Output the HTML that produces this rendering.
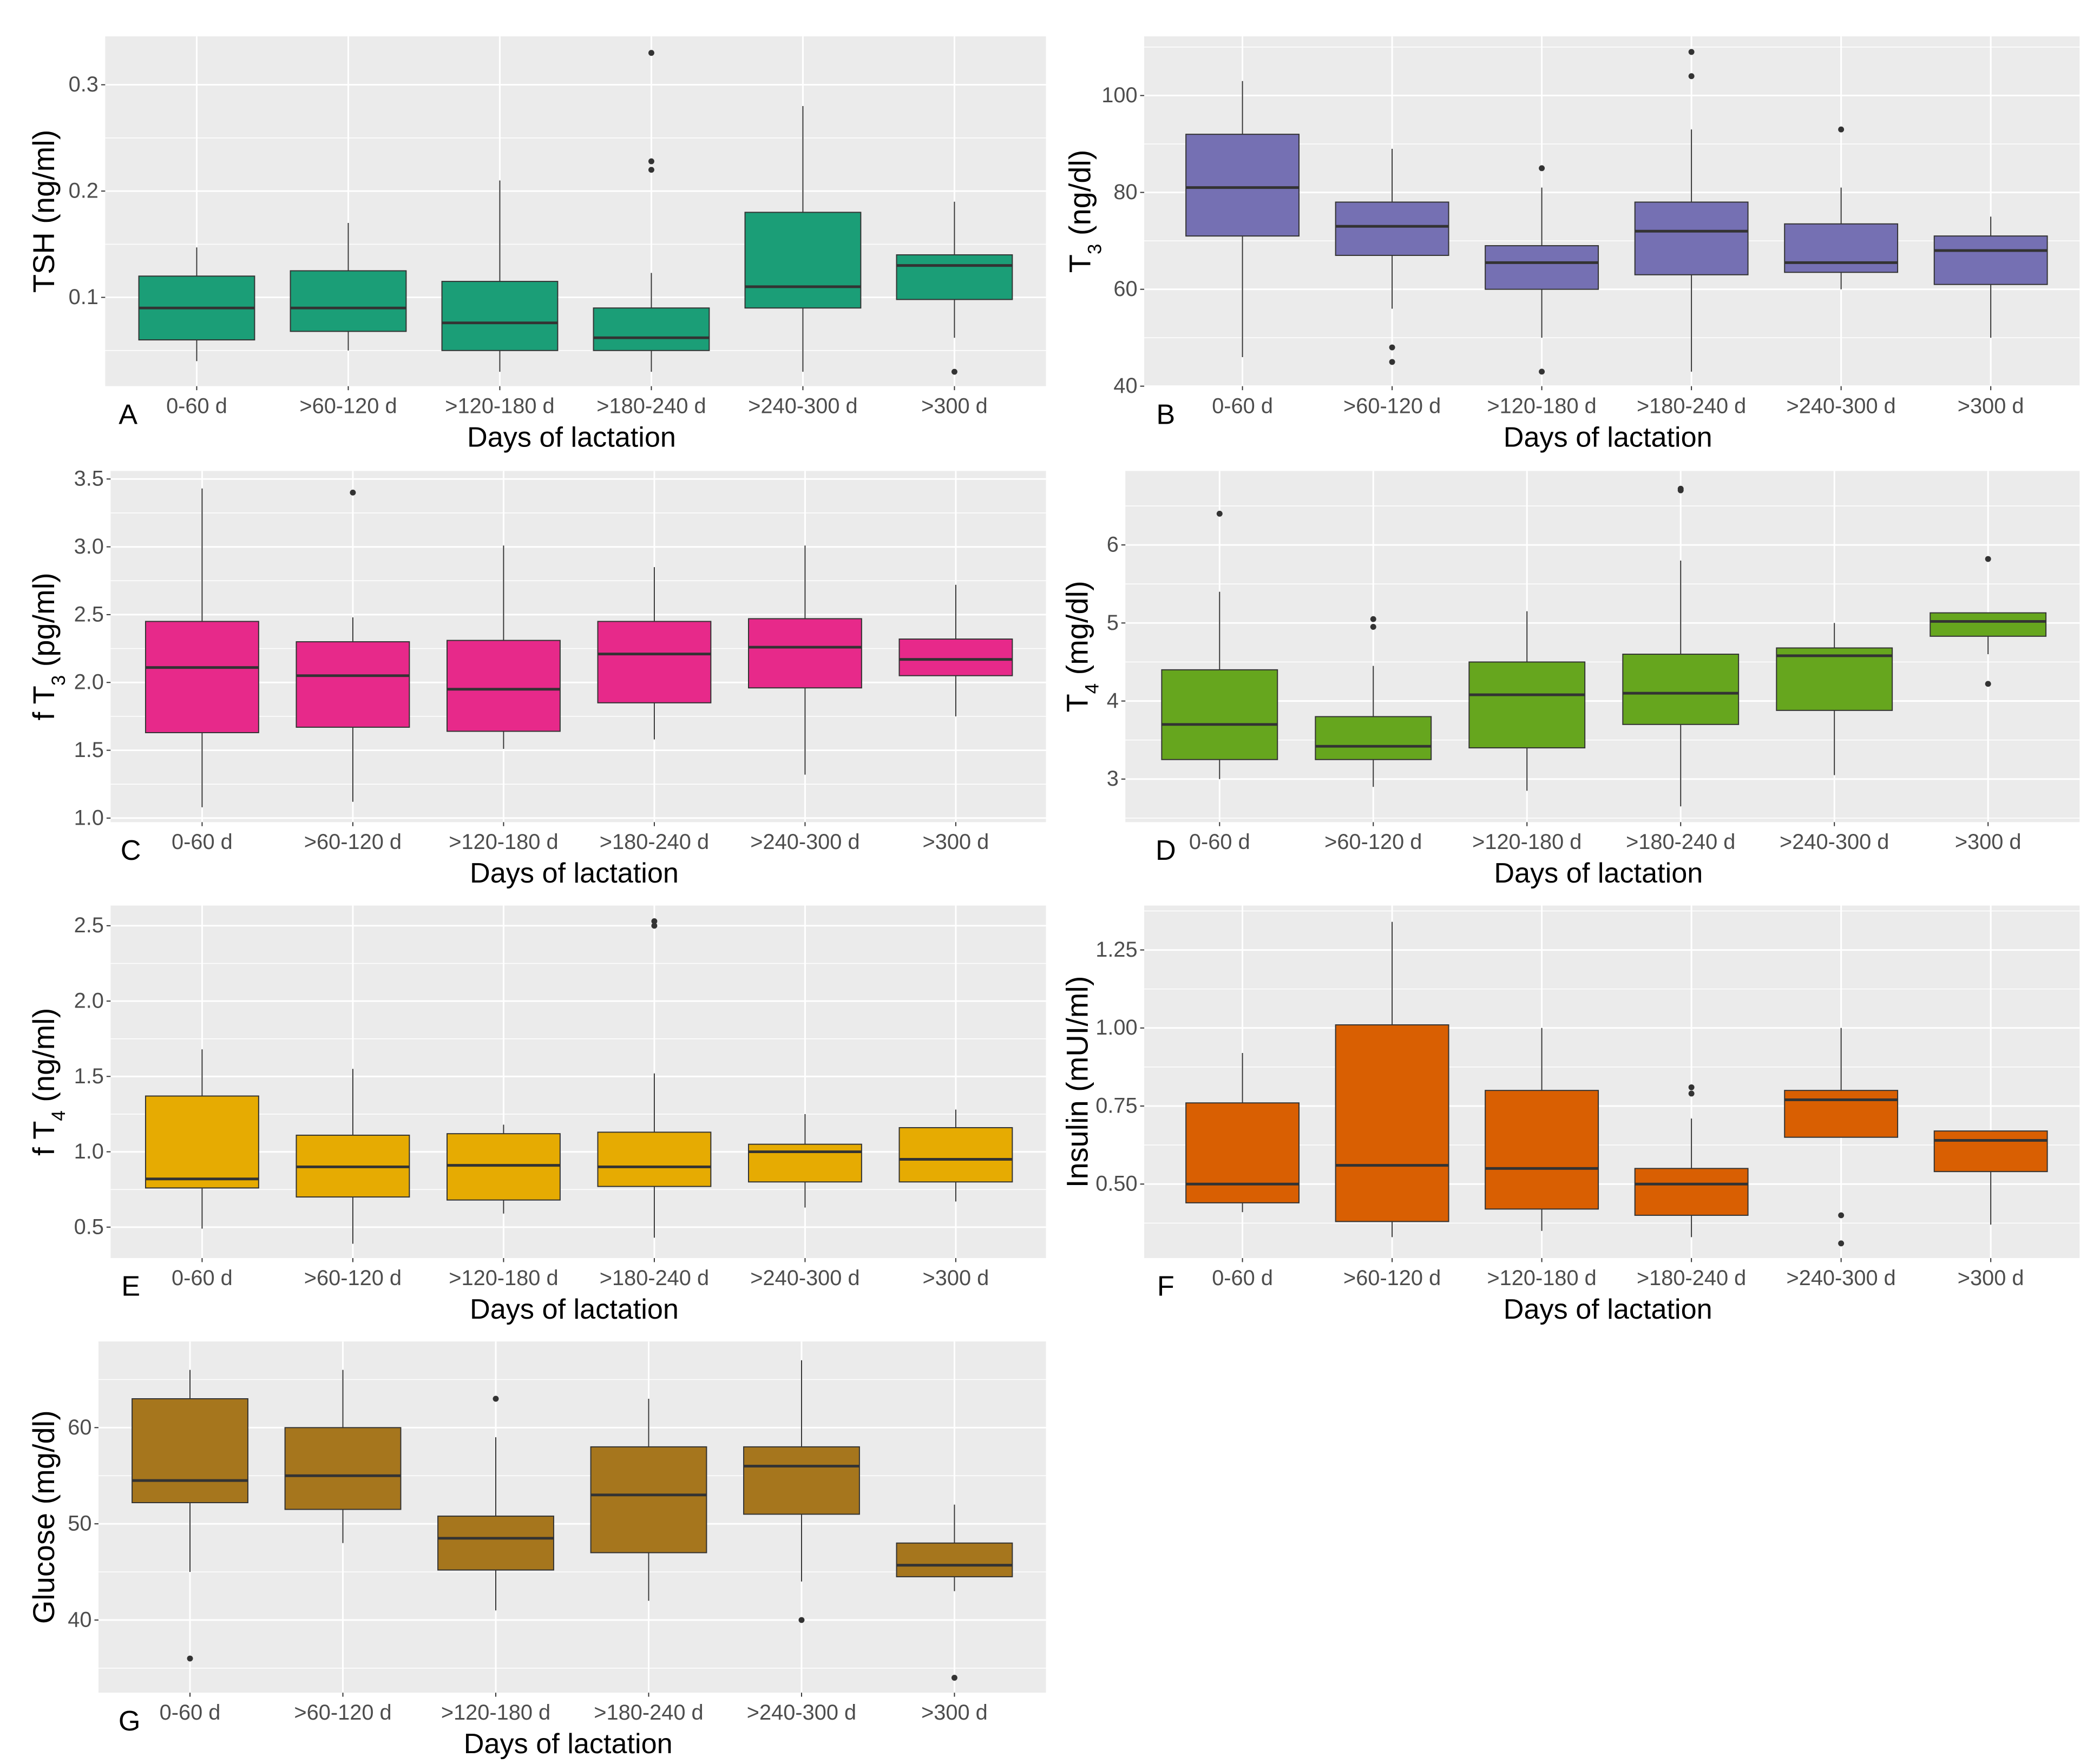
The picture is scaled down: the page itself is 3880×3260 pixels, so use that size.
<!DOCTYPE html>
<html><head><meta charset="utf-8"><style>
html,body{margin:0;padding:0;background:#fff;}
svg{display:block;}
text{font-family:"Liberation Sans Narrow","Liberation Sans",sans-serif;}
.tk{fill:#4d4d4d;font-size:16px;}
.at{fill:#000;font-size:21px;}
.yt{fill:#000;font-size:22.5px;font-family:"Liberation Sans",sans-serif;}
</style></head><body>
<svg id="fig" width="3880" height="3260" viewBox="0 0 1560 1311" xmlns="http://www.w3.org/2000/svg"></svg>
<script>
const categories = ["0-60 d", ">60-120 d", ">120-180 d", ">180-240 d", ">240-300 d", ">300 d"];
// each: [whiskerLow, q1, median, q3, whiskerHigh]
const tshStats = [[0.04,0.06,0.09,0.12,0.147],[0.05,0.068,0.09,0.125,0.17],[0.03,0.05,0.076,0.115,0.21],[0.03,0.05,0.062,0.09,0.123],[0.03,0.09,0.11,0.18,0.28],[0.062,0.098,0.13,0.14,0.19]];
const tshOut = [[],[],[],[0.33,0.228,0.22],[],[0.03]];
const t3Stats = [[46,71,81,92,103],[56,67,73,78,89],[50,60,65.5,69,81],[43,63,72,78,93],[60,63.5,65.5,73.5,81],[50,61,68,71,75]];
const t3Out = [[],[48,45],[85,43],[109,104],[93],[]];
const ft3Stats = [[1.08,1.63,2.11,2.45,3.43],[1.12,1.67,2.05,2.3,2.48],[1.51,1.64,1.95,2.31,3.01],[1.58,1.85,2.21,2.45,2.85],[1.32,1.96,2.26,2.47,3.01],[1.75,2.05,2.17,2.32,2.72]];
const ft3Out = [[],[3.4],[],[],[],[]];
const t4Stats = [[3.0,3.25,3.7,4.4,5.4],[2.9,3.25,3.42,3.8,4.45],[2.85,3.4,4.08,4.5,5.15],[2.65,3.7,4.1,4.6,5.8],[3.05,3.88,4.58,4.68,5.0],[4.6,4.83,5.02,5.13,5.1]];
const t4Out = [[6.4],[5.05,4.95],[],[6.7,6.72],[],[5.82,4.22]];
const ft4Stats = [[0.49,0.76,0.82,1.37,1.68],[0.39,0.7,0.9,1.11,1.55],[0.59,0.68,0.91,1.12,1.18],[0.43,0.77,0.9,1.13,1.52],[0.63,0.8,1.0,1.05,1.25],[0.67,0.8,0.95,1.16,1.28]];
const ft4Out = [[],[],[],[2.53,2.5],[],[]];
const insStats = [[0.41,0.44,0.5,0.76,0.92],[0.33,0.38,0.56,1.01,1.34],[0.35,0.42,0.55,0.8,1.0],[0.33,0.4,0.5,0.55,0.71],[0.65,0.65,0.77,0.8,1.0],[0.37,0.54,0.64,0.67,0.67]];
const insOut = [[],[],[],[0.81,0.79],[0.4,0.31],[]];
const gluStats = [[45,52.2,54.5,63,66],[48,51.5,55,60,66],[41,45.2,48.5,50.8,59],[42,47,53,58,63],[44,51,56,58,67],[43,44.5,45.7,48,52]];
const gluOut = [[36],[],[63],[],[40],[34]];
const tshTicks = [0.1,0.2,0.3], t3Ticks=[40,60,80,100], ft3Ticks=[1.0,1.5,2.0,2.5,3.0,3.5], t4Ticks=[3,4,5,6], ft4Ticks=[0.5,1.0,1.5,2.0,2.5], insTicks=[0.5,0.75,1.0,1.25], gluTicks=[40,50,60];

const NS="http://www.w3.org/2000/svg";
const svg=document.getElementById('fig');
function mk(tag,attrs,parent){const e=document.createElementNS(NS,tag);for(const k in attrs)e.setAttribute(k,attrs[k]);(parent||svg).appendChild(e);return e;}

function panel(cfg){
  const g=mk('g',{});
  
  
  const {x0,x1,y0,y1}=cfg;
  const ys=v=>cfg.ry1+(v-cfg.rv1)*(cfg.ry2-cfg.ry1)/(cfg.rv2-cfg.rv1);
  const xs=i=>cfg.cx0+i*cfg.step;
  const bg=mk('rect',{x:x0,y:y0,width:x1-x0,height:y1-y0,fill:'#ebebeb'},g);
  
  
  const tv=cfg.ticks, d=tv[1]-tv[0];
  const minor=[tv[0]-d/2]; tv.forEach(t=>minor.push(t+d/2));
  minor.forEach(v=>{const y=ys(v);if(y>y0&&y<y1)mk('line',{x1:x0,x2:x1,y1:y,y2:y,stroke:'#fff','stroke-width':0.6},g);});
  tv.forEach(v=>{const y=ys(v);mk('line',{x1:x0,x2:x1,y1:y,y2:y,stroke:'#fff','stroke-width':1.2},g);
    mk('line',{x1:x0-3,x2:x0,y1:y,y2:y,stroke:'#333','stroke-width':0.8},g);
    const t=mk('text',{x:x0-5,y:y+5,'text-anchor':'end',class:'tk'},g);t.textContent=cfg.fmt(v);
    
    });
  categories.forEach((c,i)=>{const x=xs(i);mk('line',{x1:x,x2:x,y1:y0,y2:y1,stroke:'#fff','stroke-width':1.2},g);
    mk('line',{x1:x,x2:x,y1:y1,y2:y1+3,stroke:'#333','stroke-width':0.8},g);
    const t=mk('text',{x:x,y:y1+20,'text-anchor':'middle',class:'tk'},g);t.textContent=c;
    
    });
  const hw=cfg.bw/2;
  cfg.stats.forEach((s,i)=>{const x=xs(i);
    const bx=mk('g',{},g);
    
    
    mk('line',{x1:x,x2:x,y1:ys(s[0]),y2:ys(s[1]),stroke:'#333','stroke-width':0.8},bx);
    mk('line',{x1:x,x2:x,y1:ys(s[3]),y2:ys(Math.max(s[4],s[3])),stroke:'#333','stroke-width':0.8},bx);
    mk('rect',{x:x-hw,y:ys(s[3]),width:cfg.bw,height:ys(s[1])-ys(s[3]),fill:cfg.color,stroke:'#333','stroke-width':0.8},bx);
    mk('line',{x1:x-hw,x2:x+hw,y1:ys(s[2]),y2:ys(s[2]),stroke:'#333','stroke-width':2},bx);
    cfg.out[i].forEach(v=>{const c=mk('circle',{cx:x,cy:ys(v),r:2.2,fill:'#333'},bx);
      
      });
  });
  const L=mk('text',{x:cfg.lx,y:y1+28,'text-anchor':'middle',class:'at'},g);L.textContent=cfg.letter;
  
  
  const xt=mk('text',{x:(x0+x1)/2-3,y:y1+45,'text-anchor':'middle',class:'at'},g);xt.textContent='Days of lactation';
  
  
  const yc=(y0+y1)/2;
  const yt=mk('text',{x:0,y:0,'text-anchor':'middle',class:'yt',transform:`translate(${cfg.ytx},${yc}) rotate(-90)`},g);
  yt.innerHTML=cfg.ytitle;
  
  
}
const f1=v=>v.toFixed(1), f0=v=>String(v), f2=v=>v.toFixed(2);
panel({letter:'A',x0:78,x1:777,y0:27,y1:287,rv1:0.1,ry1:221,rv2:0.3,ry2:63,cx0:146,step:112.6,bw:86,stats:tshStats,out:tshOut,ticks:tshTicks,fmt:f1,color:'#1b9e77',lx:95,ytx:40,ytitle:'TSH  (ng/ml)'});
panel({letter:'B',x0:850,x1:1545,y0:27,y1:287,rv1:40,ry1:287,rv2:100,ry2:71,cx0:923,step:111.2,bw:84,stats:t3Stats,out:t3Out,ticks:t3Ticks,fmt:f0,color:'#7570b3',lx:866,ytx:810,ytitle:'T<tspan baseline-shift="sub" font-size="14">3</tspan> (ng/dl)'});
panel({letter:'C',x0:82,x1:777,y0:350,y1:611,rv1:1.0,ry1:608,rv2:3.5,ry2:356,cx0:150,step:112,bw:84,stats:ft3Stats,out:ft3Out,ticks:ft3Ticks,fmt:f1,color:'#e7298a',lx:97,ytx:40,ytitle:'f T<tspan baseline-shift="sub" font-size="14">3</tspan>  (pg/ml)'});
panel({letter:'D',x0:836,x1:1545,y0:350,y1:611,rv1:3,ry1:579,rv2:6,ry2:405,cx0:906,step:114.2,bw:86,stats:t4Stats,out:t4Out,ticks:t4Ticks,fmt:f0,color:'#66a61e',lx:866,ytx:808,ytitle:'T<tspan baseline-shift="sub" font-size="14">4</tspan>  (mg/dl)'});
panel({letter:'E',x0:82,x1:777,y0:673,y1:935,rv1:0.5,ry1:912,rv2:2.5,ry2:688,cx0:150,step:112,bw:84,stats:ft4Stats,out:ft4Out,ticks:ft4Ticks,fmt:f1,color:'#e6ab02',lx:97,ytx:40,ytitle:'f T<tspan baseline-shift="sub" font-size="14">4</tspan>  (ng/ml)'});
panel({letter:'F',x0:850,x1:1545,y0:673,y1:935,rv1:0.5,ry1:880,rv2:1.25,ry2:706,cx0:923,step:111.2,bw:84,stats:insStats,out:insOut,ticks:insTicks,fmt:f2,color:'#d95f02',lx:866,ytx:808,ytitle:'Insulin  (mUI/ml)'});
panel({letter:'G',x0:73,x1:777,y0:997,y1:1258,rv1:40,ry1:1204,rv2:60,ry2:1061,cx0:141,step:113.6,bw:86,stats:gluStats,out:gluOut,ticks:gluTicks,fmt:f0,color:'#a6761d',lx:96,ytx:40,ytitle:'Glucose (mg/dl)'});
</script>
</body></html>
